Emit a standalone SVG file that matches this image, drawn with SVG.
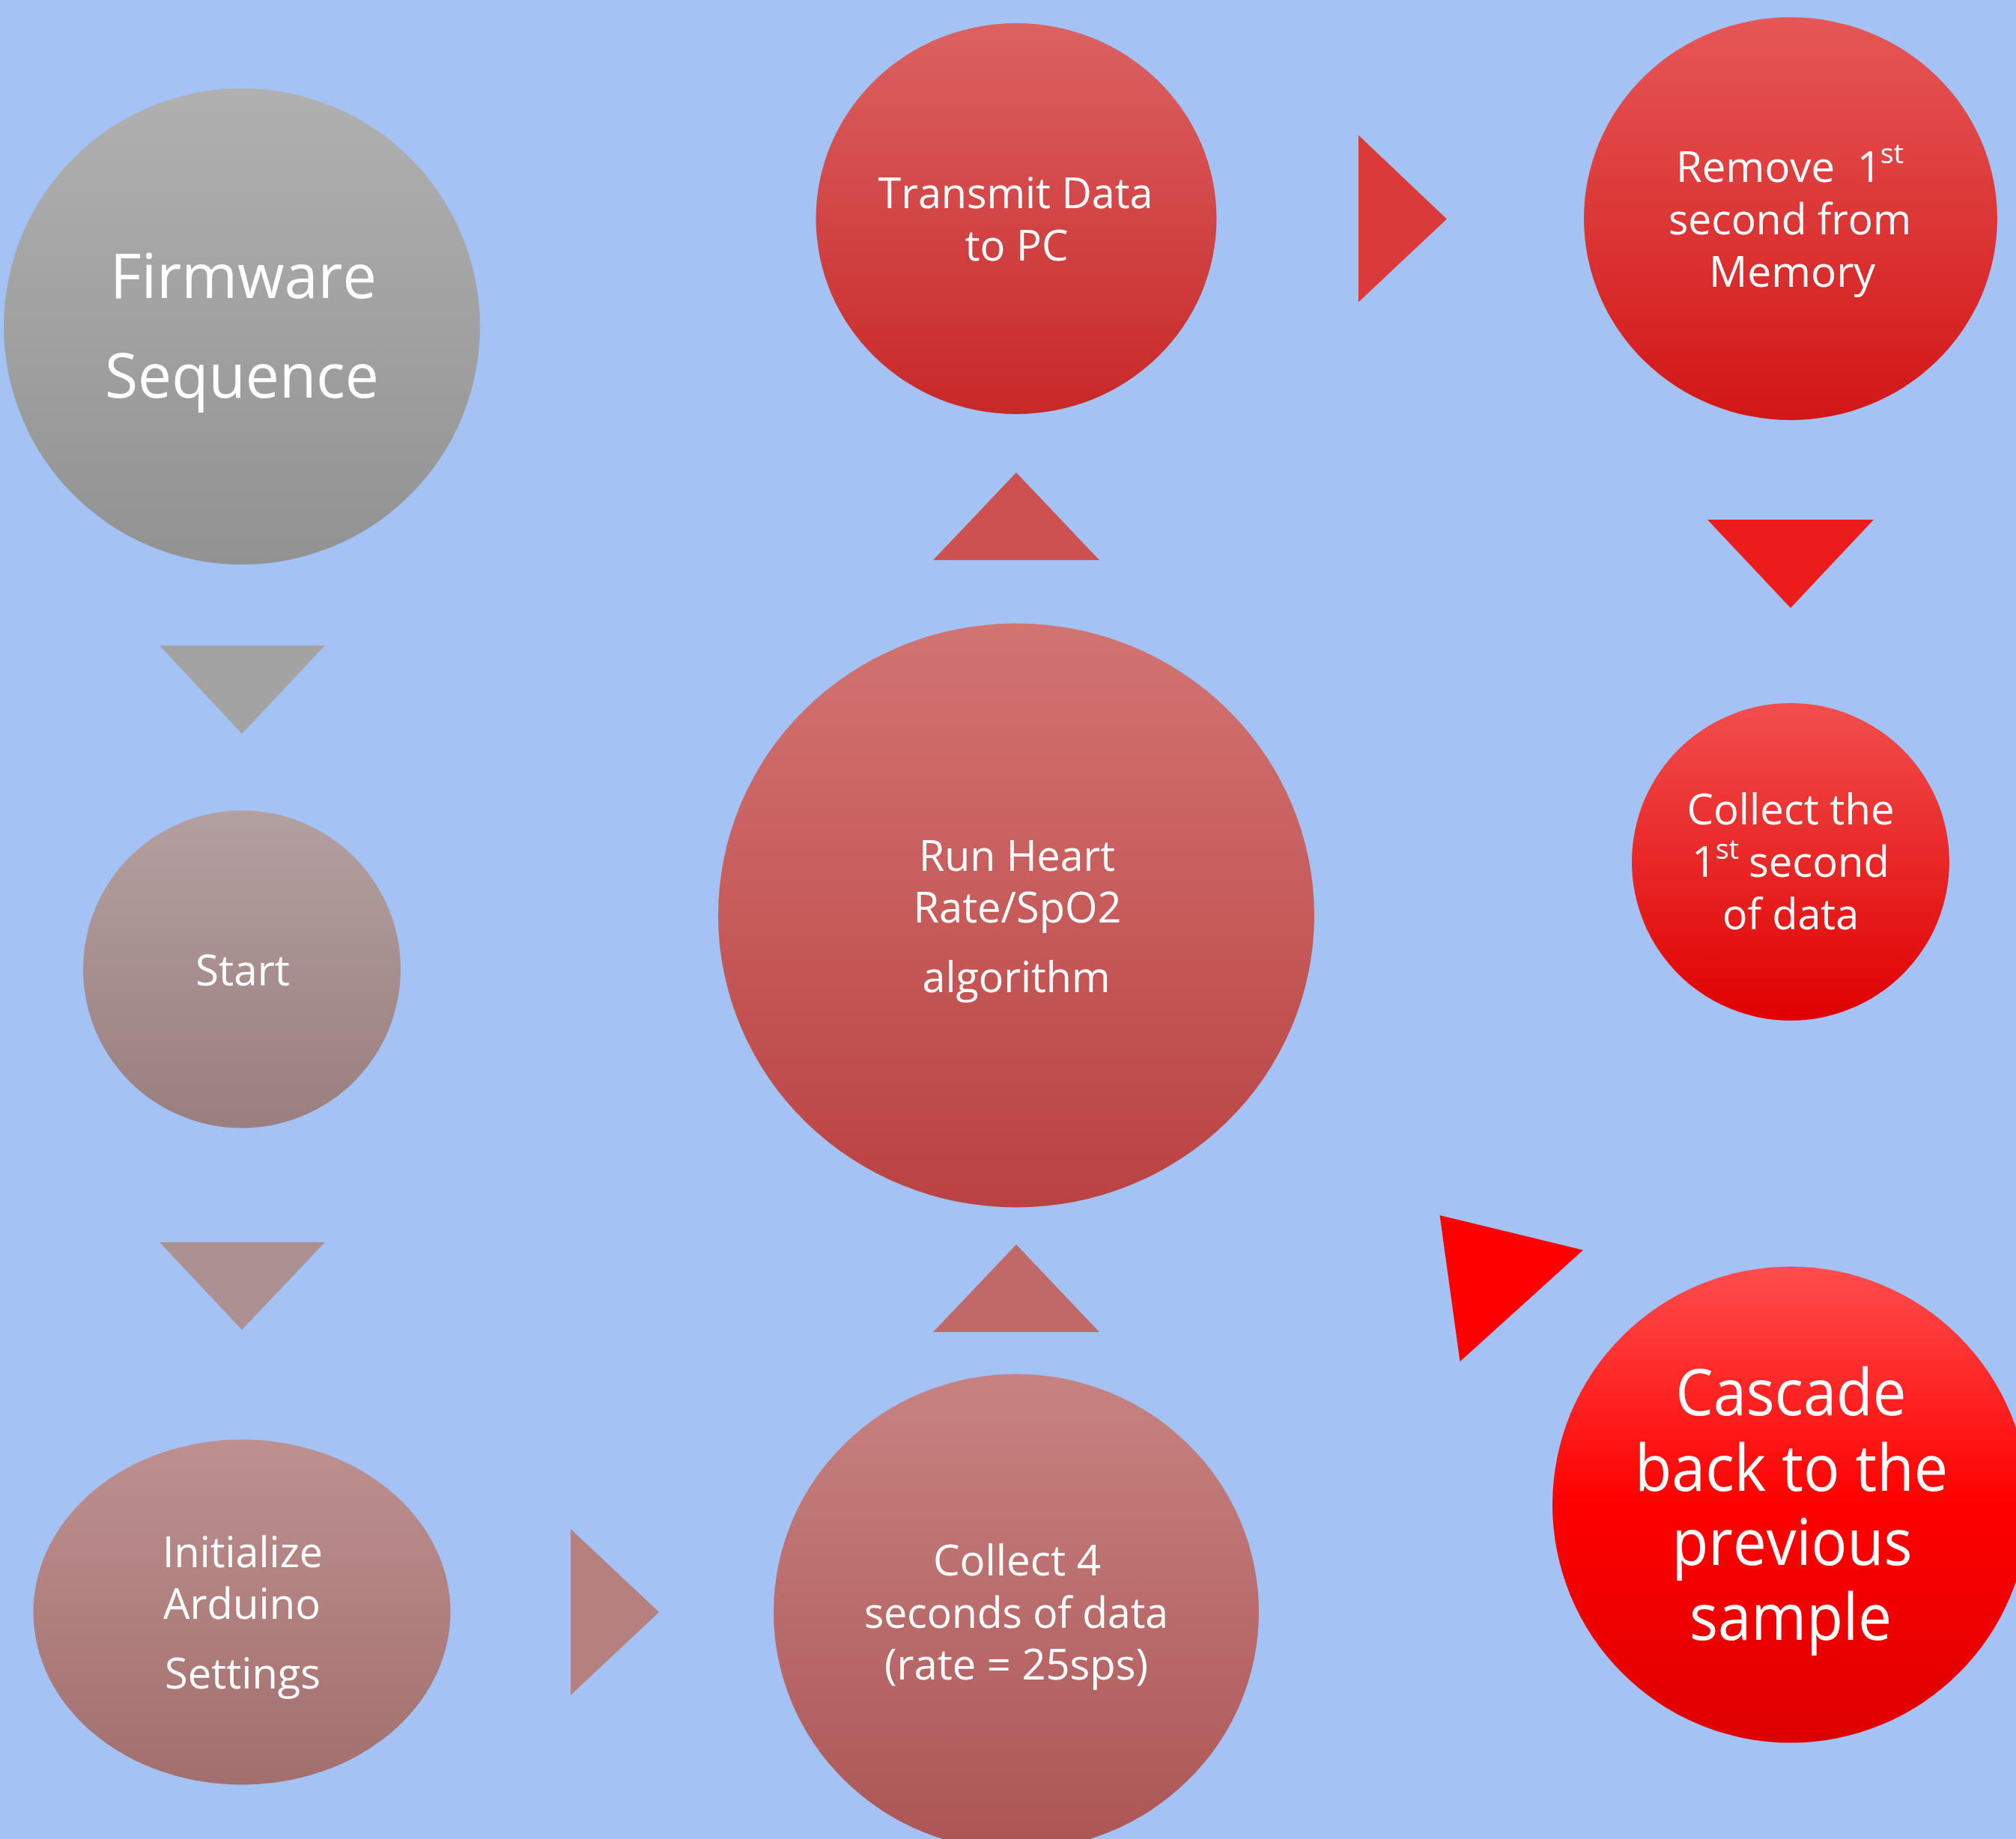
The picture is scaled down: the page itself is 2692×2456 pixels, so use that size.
<svg xmlns="http://www.w3.org/2000/svg" width="2692" height="2456" viewBox="0 0 2692 2456">
<style>
text{font-family:"Open Sans","Noto Sans","Liberation Sans",sans-serif;fill:#FFFFFF;text-anchor:middle}
.t{font-size:57px}
.big{font-size:82px}
.casc{font-size:86px}
.sup{font-size:37px;text-anchor:start}
.st{text-anchor:start}
</style>
<defs>
<linearGradient id="gFirm" x1="0" y1="0" x2="0" y2="1"><stop offset="0" stop-color="#B0B0B0"/><stop offset="1" stop-color="#929292"/></linearGradient>
<linearGradient id="gStart" x1="0" y1="0" x2="0" y2="1"><stop offset="0" stop-color="#B3A0A0"/><stop offset="1" stop-color="#9B7E7E"/></linearGradient>
<linearGradient id="gInit" x1="0" y1="0" x2="0" y2="1"><stop offset="0" stop-color="#BD9190"/><stop offset="1" stop-color="#A26F6D"/></linearGradient>
<linearGradient id="gCol4" x1="0" y1="0" x2="0" y2="1"><stop offset="0" stop-color="#C78381"/><stop offset="1" stop-color="#AC5555"/></linearGradient>
<linearGradient id="gRun" x1="0" y1="0" x2="0" y2="1"><stop offset="0" stop-color="#D27472"/><stop offset="1" stop-color="#BA4242"/></linearGradient>
<linearGradient id="gTrans" x1="0" y1="0" x2="0" y2="1"><stop offset="0" stop-color="#DC6262"/><stop offset="1" stop-color="#C82828"/></linearGradient>
<linearGradient id="gRem" x1="0" y1="0" x2="0" y2="1"><stop offset="0" stop-color="#E65757"/><stop offset="1" stop-color="#D31616"/></linearGradient>
<linearGradient id="gCol1" x1="0" y1="0" x2="0" y2="1"><stop offset="0" stop-color="#F24E4E"/><stop offset="1" stop-color="#E00000"/></linearGradient>
<linearGradient id="gCasc" x1="0" y1="0" x2="0" y2="1"><stop offset="0" stop-color="#FF4D4D"/><stop offset="0.5" stop-color="#FF0000"/><stop offset="1" stop-color="#DD0000"/></linearGradient>
</defs>
<rect x="0" y="0" width="2692" height="2456" fill="#A4C2F4"/>

<g id="connectors">
<polygon points="213,862 434,862 323,980" fill="#A3A3A3"/>
<polygon points="213,1659 434,1659 323,1776" fill="#AB9191"/>
<polygon points="762,2042 880,2153 762,2264" fill="#B5807E"/>
<polygon points="1246,1779 1468,1779 1357,1662" fill="#C16868"/>
<polygon points="1246,748 1468,748 1357,631" fill="#CD5150"/>
<polygon points="1814,180.5 1932,292.5 1814,403.5" fill="#DA3A3A"/>
<polygon points="2280,694 2502,694 2391,812" fill="#EC1C1C"/>
<polygon points="1922.5,1623 2114,1669.5 1949.5,1818.5" fill="#FF0000"/>
</g>

<g id="node-firmware">
<circle cx="323" cy="436" r="318" fill="url(#gFirm)"/>
<text class="big" x="325" y="398" textLength="356" lengthAdjust="spacingAndGlyphs">Firmware</text>
<text class="big" x="323" y="531" textLength="366" lengthAdjust="spacingAndGlyphs">Sequence</text>
</g>

<g id="node-start">
<ellipse cx="323" cy="1294.5" rx="212" ry="212" fill="url(#gStart)"/>
<text class="t" x="324" y="1316" textLength="126" lengthAdjust="spacingAndGlyphs">Start</text>
</g>

<g id="node-init">
<ellipse cx="323" cy="2153" rx="278.5" ry="230.5" fill="url(#gInit)"/>
<text class="t" x="324" y="2093" textLength="214" lengthAdjust="spacingAndGlyphs">Initialize</text>
<text class="t" x="323" y="2162" textLength="210" lengthAdjust="spacingAndGlyphs">Arduino</text>
<text class="t" x="324" y="2255" textLength="208" lengthAdjust="spacingAndGlyphs">Settings</text>
</g>

<g id="node-collect4">
<ellipse cx="1357" cy="2153" rx="324" ry="318" fill="url(#gCol4)"/>
<text class="t" x="1358" y="2104" textLength="224" lengthAdjust="spacingAndGlyphs">Collect 4</text>
<text class="t" x="1357" y="2174" textLength="406" lengthAdjust="spacingAndGlyphs">seconds of data</text>
<text class="t" x="1357" y="2243" textLength="352" lengthAdjust="spacingAndGlyphs">(rate = 25sps)</text>
</g>

<g id="node-run">
<ellipse cx="1357" cy="1222.5" rx="398" ry="390" fill="url(#gRun)"/>
<text class="t" x="1358" y="1162.5" textLength="262" lengthAdjust="spacingAndGlyphs">Run Heart</text>
<text class="t" x="1358.5" y="1232" textLength="278" lengthAdjust="spacingAndGlyphs">Rate/SpO2</text>
<text class="t" x="1357" y="1325" textLength="251" lengthAdjust="spacingAndGlyphs">algorithm</text>
</g>

<g id="node-transmit">
<ellipse cx="1357" cy="292" rx="267.5" ry="261" fill="url(#gTrans)"/>
<text class="t" x="1356" y="277.5" textLength="367" lengthAdjust="spacingAndGlyphs">Transmit Data</text>
<text class="t" x="1357.5" y="348" textLength="138" lengthAdjust="spacingAndGlyphs">to PC</text>
</g>

<g id="node-remove">
<ellipse cx="2391" cy="292" rx="276" ry="269" fill="url(#gRem)"/>
<text class="t st" y="243"><tspan x="2238" textLength="212" lengthAdjust="spacingAndGlyphs">Remove</tspan><tspan x="2465"> 1</tspan><tspan class="sup" x="2511" y="218">st</tspan></text>
<text class="t" x="2390" y="312.6" textLength="324" lengthAdjust="spacingAndGlyphs">second from</text>
<text class="t" x="2393" y="383" textLength="222" lengthAdjust="spacingAndGlyphs">Memory</text>
</g>

<g id="node-collect1">
<circle cx="2391" cy="1151" r="212" fill="url(#gCol1)"/>
<text class="t" x="2391" y="1101" textLength="277" lengthAdjust="spacingAndGlyphs">Collect the</text>
<text class="t st" y="1171"><tspan x="2259">1</tspan><tspan class="sup" x="2291" y="1147">st </tspan><tspan x="2335" y="1171" textLength="188" lengthAdjust="spacingAndGlyphs">second</tspan></text>
<text class="t" x="2391" y="1241" textLength="182" lengthAdjust="spacingAndGlyphs">of data</text>
</g>

<g id="node-cascade">
<circle cx="2391" cy="2009.5" r="318" fill="url(#gCasc)"/>
<text class="casc" x="2391.5" y="1890" textLength="308" lengthAdjust="spacingAndGlyphs">Cascade</text>
<text class="casc" x="2392" y="1990.5" textLength="418" lengthAdjust="spacingAndGlyphs">back to the</text>
<text class="casc" x="2393" y="2089.5" textLength="321" lengthAdjust="spacingAndGlyphs">previous</text>
<text class="casc" x="2391" y="2190" textLength="270" lengthAdjust="spacingAndGlyphs">sample</text>
</g>
</svg>
